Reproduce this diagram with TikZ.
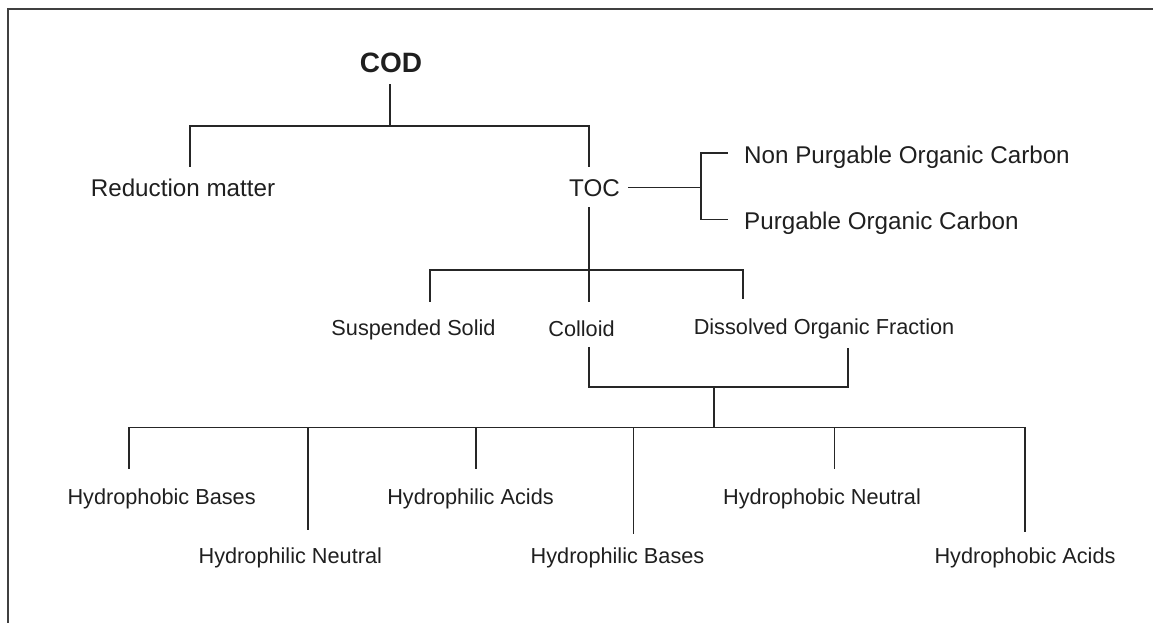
\documentclass[tikz,border=0pt]{standalone}
\usepackage{fontspec}
\setmainfont{Liberation Sans}

\tikzset{
  lbl/.style={font=\fontsize{21.7}{24}\selectfont, text=black!88, inner sep=0pt,
    text height=16pt, text depth=5pt, anchor=base},
  lblbig/.style={lbl, font=\fontsize{24.2}{27}\selectfont, text height=18pt},
  ln/.style={line width=1.6pt, draw=black!85},
  frame/.style={line width=2.5pt, draw=black!75},
}

\begin{document}
\begin{tikzpicture}[x=1pt,y=-1pt]
\useasboundingbox (0,0) rectangle (1153,623);

% ramka
\draw [frame] (8,623)--(8,9)--(1153,9);

% uzly
\node [lbl, font=\fontsize{28}{30}\selectfont\bfseries, text height=20pt] (cod) at (391,73) {COD};
\node [lblbig] (red) at (183,196.5) {Reduction matter};
\node [lblbig] (toc) at (594.5,196.5) {TOC};
\node [lblbig, anchor=base west] (npoc) at (744,163.3) {Non Purgable Organic Carbon};
\node [lblbig, anchor=base west] (poc) at (744,229.3) {Purgable Organic Carbon};

\node [lbl] (ss) at (413.5,335) {Suspended Solid};
\node [lbl] (col) at (581.5,336) {Colloid};
\node [lbl] (dof) at (824,334.3) {Dissolved Organic Fraction};

\node [lbl] (hbb) at (161.6,504.3) {Hydrophobic Bases};
\node [lbl] (hla) at (470.5,504.3) {Hydrophilic Acids};
\node [lbl] (hbn) at (822,504.3) {Hydrophobic Neutral};
\node [lbl] (hln) at (290.3,563.3) {Hydrophilic Neutral};
\node [lbl] (hlb) at (617.5,563.3) {Hydrophilic Bases};
\node [lbl] (hba) at (1025,563.3) {Hydrophobic Acids};

% tochki vetvleniya
\coordinate (b0l) at (190,126);
\coordinate (b0m) at (390,126);
\coordinate (b0r) at (589,126);
\coordinate (tocj) at (700.7,187.3);
\coordinate (brt) at (700.7,152.7);
\coordinate (brb) at (700.7,219.3);
\coordinate (b1l) at (430,270);
\coordinate (b1m) at (589,270);
\coordinate (b1r) at (742.7,270);
\coordinate (b2l) at (589,386.7);
\coordinate (b2m) at (714,386.7);
\coordinate (b2r) at (848,386.7);
\coordinate (b3l) at (129,427.3);
\coordinate (b3m) at (714,427.3);
\coordinate (b3r) at (1024.8,427.3);

% COD
\draw [ln, shorten <=6pt] (b0m |- cod.south)--(b0m);
\draw [ln, shorten <=11.5pt, shorten >=11.5pt]
  (b0l |- red.north)--(b0l)--(b0r)--(b0r |- toc.north);

% TOC
\draw [ln, shorten <=8pt] (toc.east |- tocj)--(tocj);
\draw [ln, shorten <=16.5pt, shorten >=16.5pt]
  (npoc.west |- brt)--(brt)--(brb)--(poc.west |- brb);
\draw [ln, shorten <=5.5pt, shorten >=18.3pt] (b1m |- toc.south)--(b1m |- col.north);
\draw [ln, shorten <=17pt, shorten >=19pt]
  (b1l |- ss.north)--(b1l)--(b1r)--(b1r |- dof.north);

% Colloid + DOF
\draw [ln, shorten <=5.7pt, shorten >=8.4pt]
  (b2l |- col.south)--(b2l)--(b2r)--(b2r |- dof.south);
\draw [ln] (b2m)--(b3m);

% nizhniy uroven
\draw [ln, shorten <=19.3pt, shorten >=15pt]
  (b3l |- hbb.north)--(b3l)--(b3r)--(b3r |- hba.north);
\foreach \x/\n/\s in {308/hln/17.3, 475.7/hla/19.3, 633.4/hlb/13.3, 834.4/hbn/19.3}
  \draw [ln, shorten >=\s pt] (\x,427.3)--(\x,427.3 |- \n.north);

\end{tikzpicture}
\end{document}
